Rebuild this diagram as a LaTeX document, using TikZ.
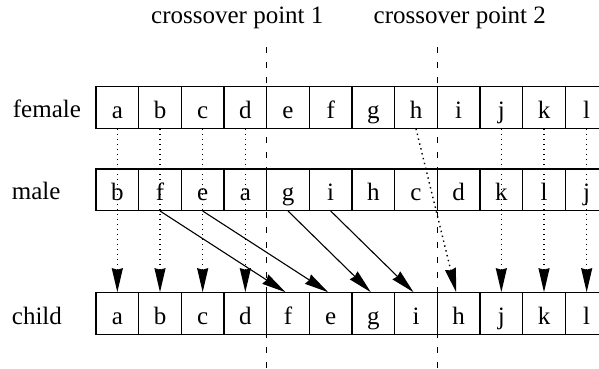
\documentclass[tikz,border=0pt]{standalone}
\usepackage{fontspec}
\setmainfont{Liberation Serif}
\usetikzlibrary{arrows.meta}
\tikzset{
  cell/.style={draw, line width=1.1pt, minimum width=42.667pt, minimum height=41.5pt,
    inner sep=0pt, text height=21pt, text depth=0pt, font=\fontsize{25}{30}\selectfont},
  rowlabel/.style={anchor=base west, inner sep=0pt, font=\fontsize{25}{30}\selectfont},
  toplabel/.style={anchor=base west, inner sep=0pt, font=\fontsize{25}{30}\selectfont},
  tip/.style={-{Stealth[length=24pt,width=11pt,inset=1.5pt]}},
  dotarrow/.style={tip, line width=1.4pt, dash pattern=on 1.4pt off 3.6pt},
  solidarrow/.style={tip, line width=1.1pt},
  cutline/.style={line width=1pt, dash pattern=on 6pt off 9pt},
}
\begin{document}
\begin{tikzpicture}[x=1pt,y=-1pt]
\useasboundingbox (0,0) rectangle (599,369);
\clip (0,0) rectangle (599,369);
\fill[white] (0,0) rectangle (599,369);
% labels
\node[toplabel] (lab1) at (151,23.3) {crossover point 1};
\node[toplabel] (lab2) at (373.5,23.3) {crossover point 2};
\node[rowlabel] (lf) at (12.7,117.5) {female};
\node[rowlabel] (lm) at (11.7,199.7) {male};
\node[rowlabel] (lc) at (11.7,324.5) {child};
% rows
\foreach \t [count=\i from 0] in {a,b,c,d,e,f,g,h,i,j,k,l}
  \node[cell] (f\i) at ({117.333+42.667*\i},107.5) {\t};
\foreach \t [count=\i from 0] in {b,f,e,a,g,i,h,c,d,k,l,j}
  \node[cell] (m\i) at ({117.333+42.667*\i},189.7) {\t};
\foreach \t [count=\i from 0] in {a,b,c,d,f,e,g,i,h,j,k,l}
  \node[cell] (c\i) at ({117.333+42.667*\i},313.5) {\t};
% crossover lines
\coordinate (p1t) at (266.67,47);
\coordinate (p1b) at (266.67,372);
\coordinate (p2t) at (437.33,47);
\coordinate (p2b) at (437.33,372);
\draw[cutline] (p1t) -- (p1b);
\draw[cutline] (p2t) -- (p2b);
% dotted arrows from female
\foreach \i in {0,1,2,3,9,10,11}
  \draw[dotarrow] (f\i.south) -- (c\i.north);
\draw[dotarrow] (f7.south) -- ([xshift=-2.5pt]c8.north);
% solid arrows from male
\draw[solidarrow] (m1.south) -- ([xshift=-2.5pt]c4.north);
\draw[solidarrow] (m2.south) -- ([xshift=-2.5pt]c5.north);
\draw[solidarrow] (m4.south) -- ([xshift=-2.5pt]c6.north);
\draw[solidarrow] (m5.south) -- ([xshift=-2.5pt]c7.north);
\end{tikzpicture}
\end{document}
